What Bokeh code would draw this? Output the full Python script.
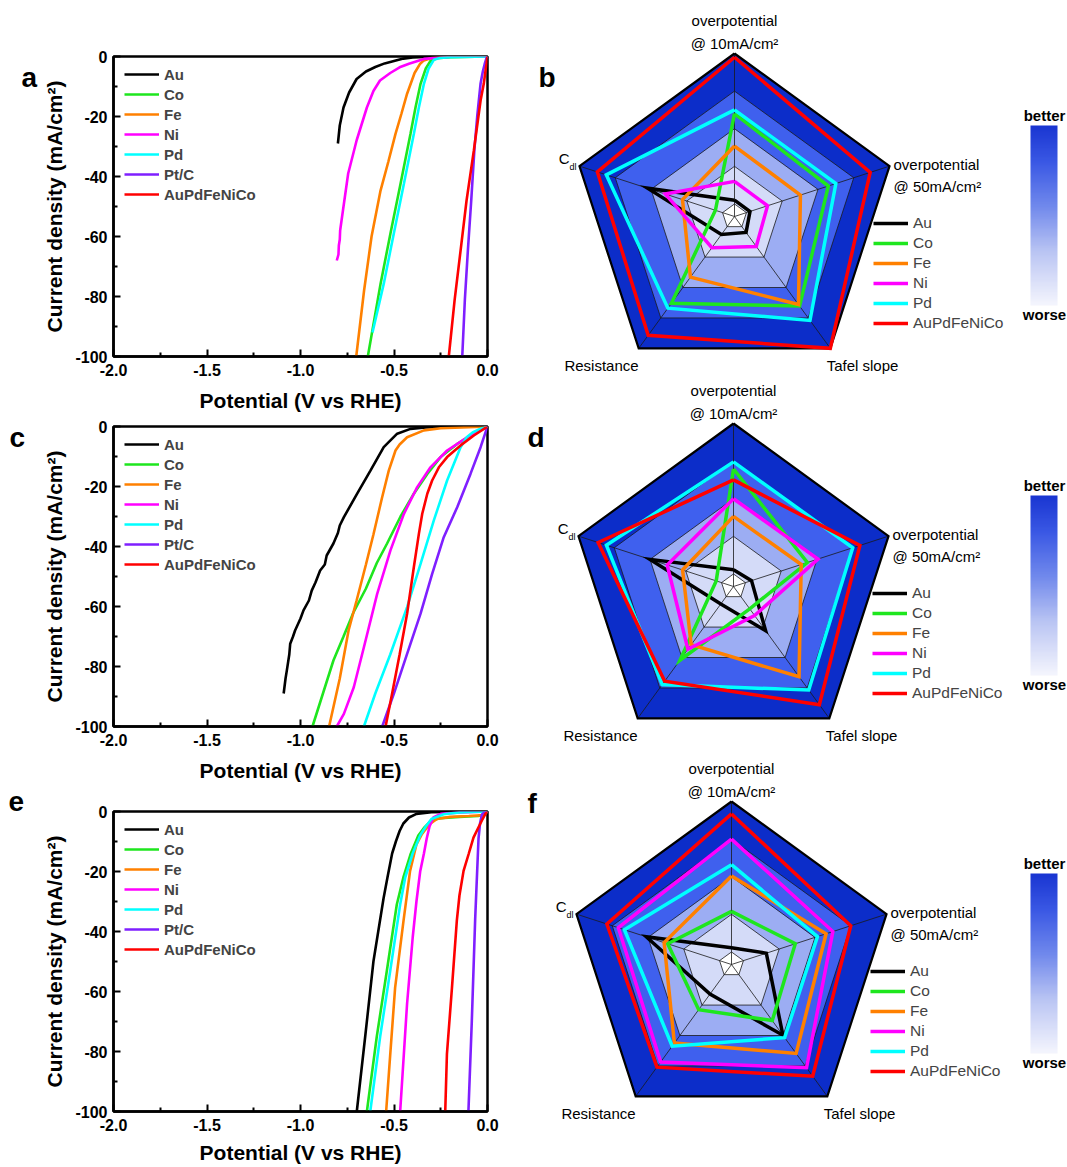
import numpy as np
from bokeh.plotting import figure
from bokeh.layouts import row, column
from bokeh.models import Range1d, FixedTicker, NumeralTickFormatter, Legend, LegendItem
from bokeh.embed import file_html
from bokeh.resources import INLINE
from bokeh.core.properties import value

# ---------------- data ----------------
LSV_SERIES = ["Au", "Co", "Fe", "Ni", "Pd", "Pt/C", "AuPdFeNiCo"]
RADAR_SERIES = ["Au", "Co", "Fe", "Ni", "Pd", "AuPdFeNiCo"]
COLORS = {"Au": "#000000", "Co": "#1ee61e", "Fe": "#ff8000", "Ni": "#ff00ff",
          "Pd": "#00ffff", "Pt/C": "#7f1fff", "AuPdFeNiCo": "#ff0000"}

X_TICKS = [-2.0, -1.5, -1.0, -0.5, 0.0]
Y_TICKS = [-100, -80, -60, -40, -20, 0]
X_LABEL = "Potential (V vs RHE)"
Y_LABEL = "Current density (mA/cm²)"
PANEL_LETTERS_LEFT = ["a", "c", "e"]

# panel a  (V vs RHE, mA/cm2)
a_Au = [(0, 0), (-0.3, -0.1), (-0.4, -0.3), (-0.45, -0.7), (-0.5, -1.5), (-0.55, -2.3), (-0.6, -3.5),
        (-0.65, -5.0), (-0.7, -7.5), (-0.74, -12), (-0.77, -17), (-0.79, -23), (-0.80, -29)]
a_Co = [(0, 0), (-0.2, -0.2), (-0.27, -0.6), (-0.305, -1.5), (-0.33, -4), (-0.358, -9.1), (-0.385, -17),
        (-0.412, -25.8), (-0.465, -42.4), (-0.519, -59), (-0.572, -75.8), (-0.64, -100)]
a_Fe = [(0, 0), (-0.2, -0.1), (-0.3, -0.5), (-0.34, -1.3), (-0.36, -2.4), (-0.39, -5.5), (-0.43, -12.4),
        (-0.46, -19), (-0.492, -25.8), (-0.53, -35), (-0.572, -44.7), (-0.62, -60), (-0.66, -78), (-0.702, -100)]
a_Ni = [(0, 0), (-0.2, -0.1), (-0.34, -0.8), (-0.42, -2.4), (-0.47, -3.6), (-0.52, -5.5), (-0.575, -8),
        (-0.61, -11.5), (-0.645, -17), (-0.70, -28), (-0.745, -39), (-0.77, -50), (-0.788, -58),
        (-0.79, -61), (-0.795, -63), (-0.797, -66), (-0.806, -68)]
a_Pd = [(0, 0), (-0.2, -0.2), (-0.255, -0.5), (-0.287, -1.1), (-0.315, -4), (-0.34, -9.1), (-0.367, -17),
        (-0.394, -25.8), (-0.447, -42.4), (-0.501, -59), (-0.555, -75.8), (-0.615, -92)]
a_Pt = [(0, 0), (-0.005, -0.5), (-0.015, -2.5), (-0.025, -5), (-0.037, -9), (-0.055, -20), (-0.07, -31),
        (-0.087, -48), (-0.105, -64.7), (-0.121, -81), (-0.135, -100)]
a_HEA = [(0, 0), (-0.005, -2.4), (-0.01, -4.5), (-0.02, -9.1), (-0.037, -14.7), (-0.073, -31.3),
         (-0.112, -48), (-0.144, -64.7), (-0.176, -81.3), (-0.207, -100)]

# panel c
c_Au = [(0, 0), (-0.2, -0.1), (-0.33, -0.3), (-0.412, -0.8), (-0.483, -2.4), (-0.555, -6.9), (-0.626, -14.7),
        (-0.697, -22.4), (-0.768, -30.2), (-0.79, -33), (-0.80, -35.5), (-0.824, -39), (-0.86, -43),
        (-0.87, -46), (-0.895, -48), (-0.92, -52), (-0.94, -54.7), (-0.955, -58), (-0.984, -61.3),
        (-1.0, -64), (-1.029, -68), (-1.04, -70), (-1.055, -72.4), (-1.06, -76), (-1.073, -81.3),
        (-1.08, -84), (-1.09, -89)]
c_Co = [(0, 0), (-0.073, -2.4), (-0.162, -5.8), (-0.251, -10.2), (-0.322, -15.8), (-0.394, -22.4),
        (-0.465, -30), (-0.537, -39), (-0.592, -45.5), (-0.65, -54), (-0.717, -62), (-0.77, -70),
        (-0.824, -78), (-0.88, -89), (-0.936, -100)]
c_Fe = [(0, 0), (-0.1, -0.2), (-0.25, -0.6), (-0.34, -1.3), (-0.43, -3.6), (-0.47, -6), (-0.492, -8),
        (-0.528, -14.7), (-0.565, -24), (-0.61, -36), (-0.65, -46), (-0.70, -58), (-0.743, -68),
        (-0.79, -84), (-0.847, -100)]
c_Ni = [(0, 0), (-0.05, -1.5), (-0.109, -3.6), (-0.216, -8), (-0.305, -13.6), (-0.376, -20.2),
        (-0.447, -29.1), (-0.519, -41.3), (-0.59, -55.8), (-0.661, -73.6), (-0.715, -86.9),
        (-0.768, -95.8), (-0.806, -100)]
c_Pd = [(0, 0), (-0.04, -0.8), (-0.08, -2), (-0.11, -3.5), (-0.144, -6.9), (-0.216, -18), (-0.287, -31.3),
        (-0.358, -45.8), (-0.43, -60.2), (-0.52, -76), (-0.6, -89), (-0.661, -100)]
c_Pt = [(0, 0), (-0.037, -6.9), (-0.091, -15.8), (-0.162, -26.9), (-0.234, -36.9), (-0.296, -49.1),
        (-0.358, -62.4), (-0.43, -75.8), (-0.501, -89.1), (-0.563, -100)]
c_HEA = [(0, 0), (-0.073, -3), (-0.144, -6.3), (-0.216, -10.2), (-0.26, -13.6), (-0.296, -18),
         (-0.322, -22.4), (-0.349, -29.1), (-0.367, -35.8), (-0.394, -46.9), (-0.43, -62.4),
         (-0.47, -76), (-0.51, -89), (-0.545, -100)]

# panel e
e_Au = [(0, 0), (-0.3, -0.2), (-0.38, -0.8), (-0.42, -2), (-0.45, -4), (-0.47, -6.5), (-0.49, -10),
        (-0.51, -14), (-0.535, -22), (-0.556, -29), (-0.61, -50), (-0.654, -75), (-0.699, -100)]
e_Co = [(0, 0), (-0.02, -1), (-0.05, -1.5), (-0.15, -1.8), (-0.25, -2.2), (-0.3, -3), (-0.34, -5.5),
        (-0.37, -8), (-0.41, -14), (-0.45, -22), (-0.485, -31), (-0.538, -53), (-0.592, -75), (-0.645, -100)]
e_Fe = [(0, 0), (-0.02, -1.2), (-0.1, -1.5), (-0.2, -1.8), (-0.27, -2.5), (-0.31, -4.2), (-0.35, -7.5),
        (-0.38, -11), (-0.414, -19.8), (-0.449, -36.4), (-0.494, -58.7), (-0.52, -80.9), (-0.542, -100)]
e_Ni = [(0, 0), (-0.15, -0.3), (-0.25, -0.8), (-0.29, -2), (-0.31, -5), (-0.325, -9), (-0.34, -14),
        (-0.36, -20), (-0.38, -30), (-0.4, -42), (-0.43, -64), (-0.467, -100)]
e_Pd = [(0, 0), (-0.15, -0.3), (-0.235, -0.9), (-0.3, -2.5), (-0.33, -5), (-0.36, -8), (-0.4, -14),
        (-0.44, -22), (-0.467, -31), (-0.52, -53), (-0.574, -75), (-0.627, -100)]
e_Pt = [(0, 0), (-0.02, -0.5), (-0.03, -1), (-0.04, -4), (-0.048, -9), (-0.066, -36), (-0.084, -70),
        (-0.102, -100)]
e_HEA = [(0, 0), (-0.012, -0.9), (-0.03, -3), (-0.05, -5.5), (-0.075, -8.7), (-0.1, -14), (-0.128, -19.8),
         (-0.15, -28), (-0.164, -36.4), (-0.19, -58.7), (-0.217, -80.9), (-0.226, -100)]

lsv_a = {"Au": a_Au, "Co": a_Co, "Fe": a_Fe, "Ni": a_Ni, "Pd": a_Pd, "Pt/C": a_Pt, "AuPdFeNiCo": a_HEA}
lsv_c = {"Au": c_Au, "Co": c_Co, "Fe": c_Fe, "Ni": c_Ni, "Pd": c_Pd, "Pt/C": c_Pt, "AuPdFeNiCo": c_HEA}
lsv_e = {"Au": e_Au, "Co": e_Co, "Fe": e_Fe, "Ni": e_Ni, "Pd": e_Pd, "Pt/C": e_Pt, "AuPdFeNiCo": e_HEA}

# radar scores, axis order: 10mA overpotential, 50mA overpotential, Tafel slope, Resistance, Cdl
RADAR_LEVELS = [0, 1, 2, 3, 4]
RADAR_MIN = -1.0 / 3.0
radar_b = {"Au": [0.1, 0.1, 0.19, 0.26, 2.1], "Co": [2.4, 2.29, 2.61, 2.52, 0.2],
           "Fe": [1.54, 1.51, 2.56, 1.66, 1.12], "Ni": [0.6, 0.59, 0.65, 0.69, 1.6],
           "Pd": [2.5, 2.5, 3.08, 2.68, 3.25], "AuPdFeNiCo": [3.9, 3.46, 4.0, 3.57, 3.5]}
radar_d = {"Au": [0.11, 0.17, 1.12, 0.24, 2.0], "Co": [2.79, 1.73, 0.4, 2.09, 0.15],
           "Fe": [1.53, 1.56, 2.63, 1.58, 1.09], "Ni": [2.0, 2.03, 0.62, 1.73, 1.52],
           "Pd": [2.98, 3.0, 3.07, 2.89, 3.22], "AuPdFeNiCo": [2.5, 3.2, 3.55, 2.78, 3.45]}
radar_f = {"Au": [0.11, 0.64, 1.99, 0.64, 2.05], "Co": [1.08, 1.45, 1.51, 1.15, 1.45],
           "Fe": [2.02, 2.31, 2.59, 2.25, 1.55], "Ni": [3.0, 2.5, 3.06, 2.87, 2.83],
           "Pd": [2.32, 2.07, 2.07, 2.35, 2.66], "AuPdFeNiCo": [3.67, 3.0, 3.34, 3.04, 3.15]}

BAND_COLORS = ["#0c2dc9", "#3f60ee", "#9cadf3", "#d4dbf8", "#ffffff"]  # outer -> inner
CB_STOPS = [(0.0, "#f4f5fd"), (0.3, "#b9c4f3"), (0.55, "#7189ec"), (0.8, "#3a58e4"), (1.0, "#1a36d2")]

FONT = "Liberation Sans"

# ---------------- layout constants (px) ----------------
STRIP_W = 40        # narrow strip holding the left panel letters
LW = 523 - STRIP_W  # LSV figure width
FL = 113 - STRIP_W  # frame left border
TOTAL_H = 1167


def mids(t):
    return [(t[i] + t[i + 1]) / 2 for i in range(len(t) - 1)]


def lsv_fig(curves, height, top, bottom, tick_sd, title_sd):
    p = figure(width=LW, height=height, x_range=Range1d(-2, 0), y_range=Range1d(-100, 0),
               min_border_left=FL, min_border_right=LW - FL - 374, min_border_top=top,
               min_border_bottom=bottom, output_backend="svg", toolbar_location=None)
    p.xgrid.visible = False
    p.ygrid.visible = False
    p.outline_line_color = "black"
    p.outline_line_width = 2.5
    p.xaxis.ticker = FixedTicker(ticks=X_TICKS, minor_ticks=mids(X_TICKS))
    p.yaxis.ticker = FixedTicker(ticks=Y_TICKS, minor_ticks=mids(Y_TICKS))
    p.xaxis.formatter = NumeralTickFormatter(format="0.0")
    p.yaxis.formatter = NumeralTickFormatter(format="0")
    p.xaxis.axis_label = X_LABEL
    p.yaxis.axis_label = Y_LABEL
    for ax in (p.xaxis[0], p.yaxis[0]):
        ax.axis_line_color = "black"
        ax.axis_line_width = 2.5
        ax.major_tick_in = 7
        ax.major_tick_out = 0
        ax.minor_tick_in = 4
        ax.minor_tick_out = 0
        ax.major_tick_line_width = 2
        ax.minor_tick_line_width = 2
        ax.major_label_text_font = FONT
        ax.major_label_text_font_style = "bold"
        ax.major_label_text_font_size = "16px"
        ax.major_label_text_color = "black"
        ax.axis_label_text_font = FONT
        ax.axis_label_text_font_style = "bold"
        ax.axis_label_text_font_size = "21px"
        ax.axis_label_text_color = "black"
    p.xaxis.major_label_standoff = tick_sd
    p.xaxis.axis_label_standoff = title_sd
    p.yaxis.major_label_standoff = 6
    p.yaxis.axis_label_standoff = 6
    items = []
    for name in LSV_SERIES:
        V = [pt[0] for pt in curves[name]]
        J = [pt[1] for pt in curves[name]]
        r = p.line(V, J, line_color=COLORS[name], line_width=2.6)
        items.append(LegendItem(label=name, renderers=[r]))
    leg = Legend(items=items, location=(11, 152), margin=0, padding=1, spacing=0,
                 glyph_width=35, glyph_height=20, label_height=20, label_standoff=5,
                 label_text_font=FONT, label_text_font_style="bold", label_text_font_size="15px",
                 border_line_color=None, background_fill_alpha=0)
    p.add_layout(leg)
    return p


def letter_strip(letters, xs, baselines):
    p = figure(width=STRIP_W, height=TOTAL_H, x_range=Range1d(0, STRIP_W), y_range=Range1d(TOTAL_H, 0),
               x_axis_location=None, y_axis_location=None, min_border=0,
               output_backend="svg", toolbar_location=None)
    p.grid.visible = False
    p.outline_line_color = None
    p.text(x=xs, y=baselines, text=letters, text_align="left", text_baseline="alphabetic",
           text_font=value(FONT), text_font_size="28px", text_font_style="bold", text_color="black")
    return p


def make_palette(n=256):
    pos = [s[0] for s in CB_STOPS]
    rgb = np.array([[int(s[1][i:i + 2], 16) for i in (1, 3, 5)] for s in CB_STOPS], dtype=float)
    out = []
    for tt in np.linspace(0, 1, n):
        c = [np.interp(tt, pos, rgb[:, k]) for k in range(3)]
        out.append("#%02x%02x%02x" % tuple(int(round(v)) for v in c))
    return out


S = 163.0  # px per unit radius
RW = 1067 - 523


def radar_fig(vals, letter, height, cy_top, cx, letter_px):
    p = figure(width=RW, height=height,
               x_range=Range1d(-cx / S, (RW - cx) / S),
               y_range=Range1d(-(height - cy_top) / S, cy_top / S),
               x_axis_location=None, y_axis_location=None, min_border=0,
               output_backend="svg", toolbar_location=None)
    p.grid.visible = False
    p.outline_line_color = None
    ang = np.deg2rad(90 - 72 * np.arange(5))
    ca, sa = np.cos(ang), np.sin(ang)

    def rad(v):
        return (np.asarray(v, dtype=float) - RADAR_MIN) / (RADAR_LEVELS[-1] - RADAR_MIN)

    def closed(a):
        return list(a) + [a[0]]

    for lvl, col in zip(reversed(RADAR_LEVELS), BAND_COLORS):
        r = rad(lvl)
        p.patch(list(r * ca), list(r * sa), fill_color=col, line_color=None)
    for lvl in RADAR_LEVELS[:-1]:
        r = rad(lvl)
        p.line(closed(r * ca), closed(r * sa), line_color="#1a1a1a", line_width=0.8)
    p.segment(x0=[0] * 5, y0=[0] * 5, x1=list(ca), y1=list(sa), line_color="#1a1a1a", line_width=0.8)
    p.line(closed(ca), closed(sa), line_color="black", line_width=2.2, line_join="miter")

    items = []
    for name in RADAR_SERIES:
        r = rad(vals[name])
        rr = p.line(closed(r * ca), closed(r * sa), line_color=COLORS[name], line_width=3.5,
                    line_join="miter")
        items.append(LegendItem(label=name, renderers=[rr]))

    txt = dict(text_font=value(FONT), text_font_size="15px", text_color="black")
    p.text(x=[0, 0], y=[196 / S, 173 / S], text=["overpotential", "@ 10mA/cm²"],
           text_align="center", text_baseline="middle", **txt)
    p.text(x=[159 / S, 159 / S], y=[52 / S, 30 / S], text=["overpotential", "@ 50mA/cm²"],
           text_align="left", text_baseline="middle", **txt)
    p.text(x=[128 / S, -133 / S], y=[-149 / S, -149 / S], text=["Tafel slope", "Resistance"],
           text_align="center", text_baseline="middle", **txt)
    p.text(x=[-165 / S], y=[58 / S], text=["C"], text_align="right", text_baseline="middle", **txt)
    p.text(x=[-165 / S], y=[50 / S], text=["dl"], text_align="left", text_baseline="middle",
           text_font=value(FONT), text_font_size="9px", text_color="black")

    # colour scale (better / worse)
    grad = np.linspace(0, 1, 200).reshape(200, 1)
    p.image(image=[grad], x=(507 - cx) / S, y=-89 / S, dw=27 / S, dh=180 / S, palette=make_palette())
    p.text(x=[(521 - cx) / S, (521 - cx) / S], y=[101 / S, -98 / S], text=["better", "worse"],
           text_align="center", text_baseline="middle", text_font=value(FONT), text_font_size="15px",
           text_font_style="bold", text_color="black")

    p.text(x=[letter_px[0] / S], y=[letter_px[1] / S], text=[letter], text_align="left",
           text_baseline="alphabetic", text_font=value(FONT), text_font_size="28px",
           text_font_style="bold", text_color="black")

    leg = Legend(items=items, location=(cx + 139, height - cy_top - 117), margin=0, padding=0,
                 spacing=0, glyph_width=35, glyph_height=20, label_height=20, label_standoff=5,
                 label_text_font=FONT, label_text_font_size="15.5px",
                 border_line_color=None, background_fill_alpha=0)
    p.add_layout(leg)
    return p


strip = letter_strip(PANEL_LETTERS_LEFT, [21, 9, 8], [77, 437, 801])
pa = lsv_fig(lsv_a, 415, 56, 59, 7, 10)
pc = lsv_fig(lsv_c, 370, 11, 59, 7, 10)
pe = lsv_fig(lsv_e, 382, 26, 56, 7, 7)

pb = radar_fig(radar_b, "b", 378, 216, 211, (-196, 139))
pd = radar_fig(radar_d, "d", 382, 208, 210, (-206, 149))
pf = radar_fig(radar_f, "f", 407, 204, 208, (-204, 161))

layout = row(strip, column(pa, pc, pe), column(pb, pd, pf))
open("out.html", "w").write(file_html(layout, INLINE))
